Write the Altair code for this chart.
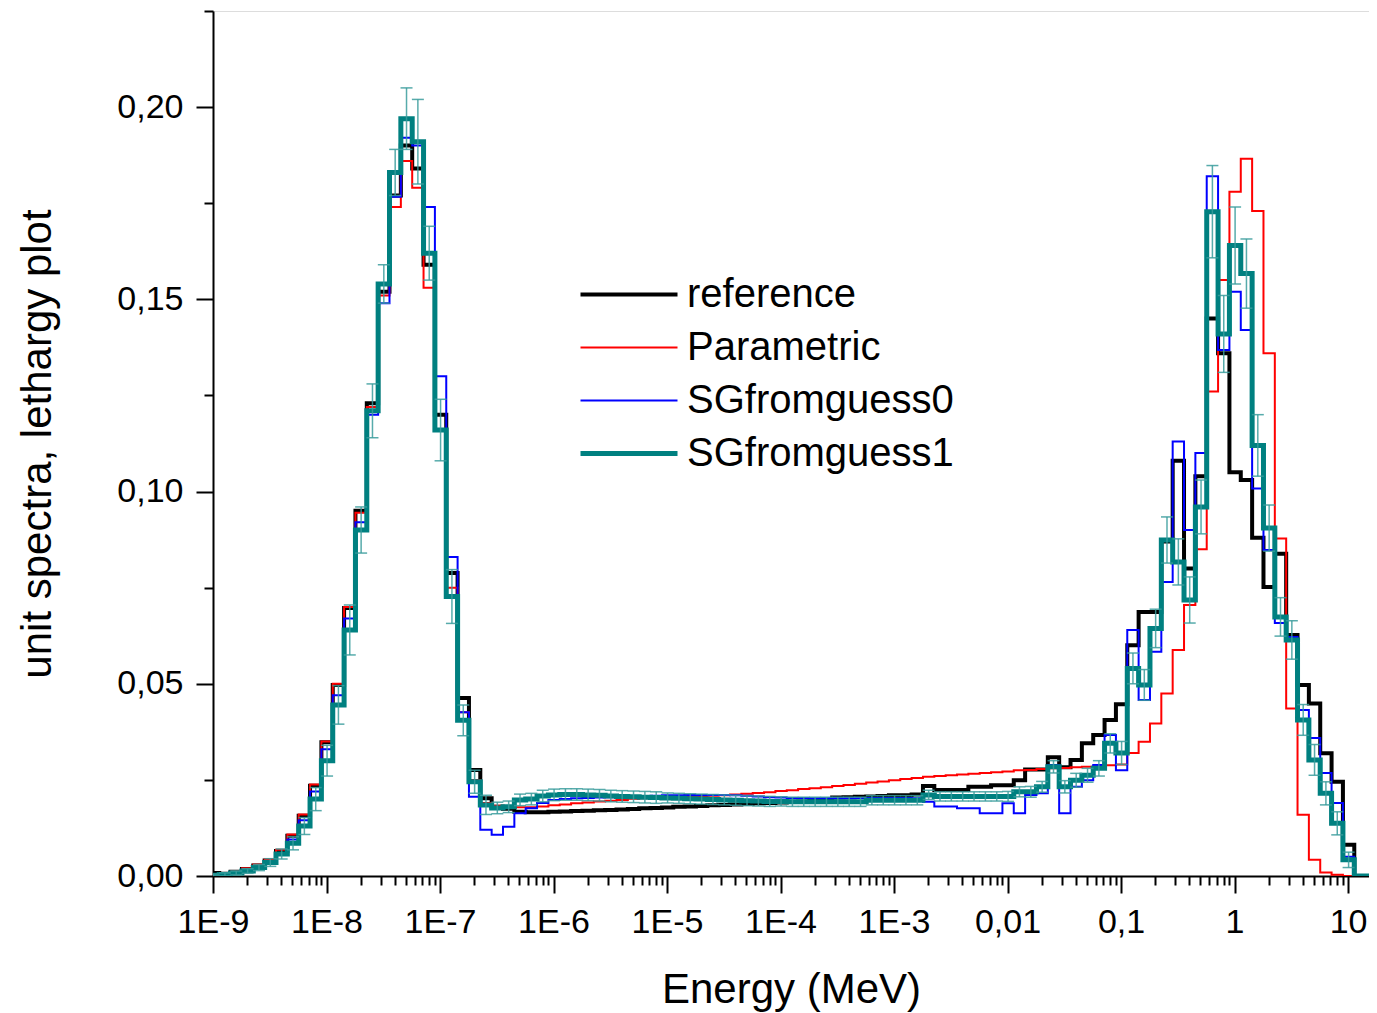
import altair as alt
import pandas as pd

series_names = ["reference", "Parametric", "SGfromguess0", "SGfromguess1"]
series_colors = ["#000000", "#ff0000", "#0000ff", "#008080"]
series_widths = [4, 2, 2, 5]
err_color = "#3a9c9c"

# energy group structure: log10 of first lower edge, group width in decades
first_edge_log = -9.045
group_width_log = 0.1
n_groups = 101
x_min, x_max = 1e-9, 15.3
y_max = 0.225

reference = [
    0.0008, 0.0006, 0.0011, 0.0018, 0.0027, 0.0040, 0.0065, 0.0105, 0.0157, 0.0235,
    0.0348, 0.0497, 0.0697, 0.0950, 0.1230, 0.1520, 0.1770, 0.1900, 0.1840, 0.1590,
    0.1200, 0.0788, 0.0463, 0.0276, 0.0202, 0.0180, 0.0175, 0.0167, 0.0166, 0.0166,
    0.0167, 0.0168, 0.0169, 0.0170, 0.0171, 0.0172, 0.0173, 0.0174, 0.0176, 0.0177,
    0.0178, 0.0180, 0.0181, 0.0182, 0.0184, 0.0185, 0.0186, 0.0188, 0.0189, 0.0190,
    0.0191, 0.0193, 0.0194, 0.0196, 0.0199, 0.0204, 0.0205, 0.0206, 0.0207, 0.0208,
    0.0210, 0.0210, 0.0212, 0.0234, 0.0224, 0.0224, 0.0224, 0.0232, 0.0232, 0.0236,
    0.0236, 0.0249, 0.0277, 0.0277, 0.0309, 0.0283, 0.0302, 0.0345, 0.0367, 0.0406,
    0.0447, 0.0600, 0.0687, 0.0687, 0.0870, 0.1080, 0.0800, 0.1040, 0.1450, 0.1360,
    0.1050, 0.1030, 0.0880, 0.0752, 0.0838, 0.0627, 0.0497, 0.0449, 0.0319, 0.0245,
    0.0081,
]
parametric = [
    0.0004, 0.0007, 0.0012, 0.0020, 0.0030, 0.0043, 0.0068, 0.0108, 0.0160, 0.0238,
    0.0350, 0.0500, 0.0700, 0.0945, 0.1220, 0.1510, 0.1740, 0.1860, 0.1790, 0.1530,
    0.1160, 0.0750, 0.0426, 0.0250, 0.0190, 0.0183, 0.0180, 0.0179, 0.0179, 0.0181,
    0.0184, 0.0186, 0.0189, 0.0191, 0.0194, 0.0196, 0.0198, 0.0201, 0.0202, 0.0203,
    0.0204, 0.0205, 0.0206, 0.0207, 0.0209, 0.0210, 0.0212, 0.0214, 0.0216, 0.0218,
    0.0221, 0.0223, 0.0226, 0.0228, 0.0231, 0.0234, 0.0237, 0.0240, 0.0243, 0.0246,
    0.0249, 0.0252, 0.0255, 0.0258, 0.0260, 0.0262, 0.0264, 0.0266, 0.0268, 0.0270,
    0.0272, 0.0275, 0.0276, 0.0278, 0.0280, 0.0281, 0.0283, 0.0284, 0.0286, 0.0288,
    0.0290, 0.0320, 0.0349, 0.0397, 0.0475, 0.0588, 0.0705, 0.0850, 0.1260, 0.1550,
    0.1780, 0.1866, 0.1730, 0.1360, 0.0878, 0.0436, 0.0159, 0.0042, 0.0009, 0.0003,
    0.0000,
]
sg_guess0 = [
    0.0003, 0.0005, 0.0010, 0.0016, 0.0025, 0.0037, 0.0060, 0.0095, 0.0145, 0.0220,
    0.0330, 0.0470, 0.0670, 0.0920, 0.1200, 0.1490, 0.1767, 0.1920, 0.1900, 0.1740,
    0.1300, 0.0830, 0.0426, 0.0206, 0.0120, 0.0107, 0.0128, 0.0163, 0.0176, 0.0190,
    0.0198, 0.0200, 0.0202, 0.0203, 0.0204, 0.0205, 0.0206, 0.0207, 0.0208, 0.0209,
    0.0210, 0.0210, 0.0211, 0.0211, 0.0211, 0.0211, 0.0210, 0.0209, 0.0207, 0.0205,
    0.0204, 0.0203, 0.0203, 0.0202, 0.0202, 0.0202, 0.0202, 0.0203, 0.0203, 0.0203,
    0.0203, 0.0203, 0.0202, 0.0193, 0.0181, 0.0181, 0.0176, 0.0176, 0.0163, 0.0163,
    0.0189, 0.0163, 0.0211, 0.0215, 0.0289, 0.0163, 0.0232, 0.0249, 0.0289, 0.0367,
    0.0275, 0.0640, 0.0458, 0.0583, 0.0765, 0.1130, 0.0900, 0.1100, 0.1820, 0.1368,
    0.1520, 0.1420, 0.1008, 0.0848, 0.0658, 0.0622, 0.0432, 0.0359, 0.0268, 0.0190,
    0.0050,
]
sg_guess1 = [
    0.0002, 0.0004, 0.0008, 0.0013, 0.0022, 0.0035, 0.0057, 0.0085, 0.0130, 0.0200,
    0.0300, 0.0445, 0.0640, 0.0900, 0.1210, 0.1540, 0.1830, 0.1970, 0.1910, 0.1620,
    0.1160, 0.0727, 0.0405, 0.0245, 0.0185, 0.0177, 0.0180, 0.0198, 0.0200, 0.0208,
    0.0211, 0.0212, 0.0212, 0.0211, 0.0210, 0.0208, 0.0207, 0.0206, 0.0205, 0.0204,
    0.0203, 0.0202, 0.0201, 0.0200, 0.0199, 0.0198, 0.0197, 0.0196, 0.0195, 0.0194,
    0.0194, 0.0193, 0.0193, 0.0193, 0.0193, 0.0193, 0.0193, 0.0193, 0.0197, 0.0197,
    0.0197, 0.0197, 0.0197, 0.0211, 0.0207, 0.0207, 0.0207, 0.0207, 0.0207, 0.0207,
    0.0207, 0.0219, 0.0219, 0.0232, 0.0284, 0.0232, 0.0249, 0.0262, 0.0280, 0.0345,
    0.0320, 0.0540, 0.0497, 0.0644, 0.0874, 0.0817, 0.0718, 0.0960, 0.1728, 0.1410,
    0.1640, 0.1567, 0.1120, 0.0905, 0.0674, 0.0614, 0.0406, 0.0302, 0.0215, 0.0137,
    0.0042,
]
sg_guess1_err = [
    0.0003, 0.0004, 0.0005, 0.0006, 0.0008, 0.0010, 0.0013, 0.0017, 0.0022, 0.0030,
    0.0040, 0.0050, 0.0065, 0.0060, 0.0070, 0.0050, 0.0060, 0.0080, 0.0110, 0.0070,
    0.0080, 0.0070, 0.0040, 0.0030, 0.0025, 0.0015, 0.0015, 0.0015, 0.0015, 0.0015,
    0.0015, 0.0015, 0.0015, 0.0015, 0.0015, 0.0015, 0.0015, 0.0015, 0.0015, 0.0015,
    0.0013, 0.0013, 0.0013, 0.0013, 0.0013, 0.0013, 0.0013, 0.0013, 0.0013, 0.0013,
    0.0012, 0.0012, 0.0012, 0.0012, 0.0012, 0.0012, 0.0012, 0.0012, 0.0012, 0.0012,
    0.0012, 0.0012, 0.0012, 0.0012, 0.0012, 0.0012, 0.0012, 0.0012, 0.0012, 0.0012,
    0.0013, 0.0013, 0.0014, 0.0014, 0.0016, 0.0016, 0.0018, 0.0018, 0.0020, 0.0025,
    0.0030, 0.0040, 0.0040, 0.0050, 0.0060, 0.0060, 0.0060, 0.0070, 0.0120, 0.0100,
    0.0100, 0.0090, 0.0080, 0.0060, 0.0050, 0.0050, 0.0040, 0.0040, 0.0030, 0.0030,
    0.0020,
]

# ---- build tables ----
edges = [10 ** (first_edge_log + group_width_log * k) for k in range(n_groups + 1)]
centers = [10 ** (first_edge_log + group_width_log * (k + 0.5)) for k in range(n_groups)]

rows = []
for name, vals in zip(series_names, [reference, parametric, sg_guess0, sg_guess1]):
    for k in range(n_groups):
        rows.append({"E": edges[k], "v": vals[k], "series": name})
    rows.append({"E": edges[n_groups], "v": 0.0, "series": name})
    rows.append({"E": x_max, "v": 0.0, "series": name})
df_lines = pd.DataFrame(rows)

df_err = pd.DataFrame({
    "E": centers,
    "v": [max(v - e, 0) for v, e in zip(sg_guess1, sg_guess1_err)],
    "hi": [v + e for v, e in zip(sg_guess1, sg_guess1_err)],
})

# ---- axes ----
x_ticks = [m * 10.0 ** d for d in range(-9, 2) for m in range(1, 10) if m * 10.0 ** d <= x_max]
y_ticks = [round(0.025 * i, 3) for i in range(10)]

lg = "log(datum.value)/LN10"
is_decade = f"abs({lg} - round({lg})) < 0.01"
x_label_expr = (
    f"{is_decade} ? (round({lg}) <= -3 ? '1E' + round({lg}) : "
    f"round({lg}) == -2 ? '0,01' : round({lg}) == -1 ? '0,1' : "
    f"round({lg}) == 0 ? '1' : '10') : ''"
)
y_major = "abs(datum.value*20 - round(datum.value*20)) < 0.01"
y_label_expr = f"{y_major} ? replace(format(datum.value, '.2f'), '.', ',') : ''"

font = "Liberation Sans"

xaxis = alt.Axis(
    orient="bottom",
    values=x_ticks, labelExpr=x_label_expr, labelOverlap=False, labelFlush=False,
    tickSize={"condition": {"test": is_decade, "value": 17}, "value": 9},
    tickWidth=2, tickColor="black", domainColor="black", domainWidth=2,
    labelFontSize=34, labelFont=font, labelColor="black", labelPadding=12,
    titleFontSize=42, titleFont=font, titleFontWeight="normal", titleColor="black",
    titleY=126, titleBaseline="alphabetic", grid=False,
)
yaxis = alt.Axis(
    orient="left",
    values=y_ticks, labelExpr=y_label_expr, labelOverlap=False, labelFlush=False,
    tickSize={"condition": {"test": y_major, "value": 17}, "value": 9},
    tickWidth=2, tickColor="black", domainColor="black", domainWidth=2,
    labelFontSize=34, labelFont=font, labelColor="black", labelPadding=13,
    titleFontSize=42, titleFont=font, titleFontWeight="normal", titleColor="black",
    titleX=-163, titleBaseline="alphabetic", grid=False,
)

xscale = alt.Scale(type="log", domain=[x_min, x_max], nice=False)
yscale = alt.Scale(domain=[0, y_max], nice=False, zero=True)

legend = alt.Legend(
    title=None, orient="none", legendX=365, legendY=257,
    symbolType="stroke", symbolSize=9409, labelFontSize=40, labelFont=font,
    labelColor="black", labelOffset=7, labelLimit=0, clipHeight=53, rowPadding=0,
)

X = alt.X("E:Q", scale=xscale, axis=xaxis, title="Energy (MeV)")
Y = alt.Y("v:Q", scale=yscale, axis=yaxis, title="unit spectra, lethargy plot")
color = alt.Color("series:N", scale=alt.Scale(domain=series_names, range=series_colors), legend=legend)
width_enc = alt.StrokeWidth(
    "series:N", scale=alt.Scale(type="ordinal", domain=series_names, range=series_widths), legend=legend
)

layers = []
for name in series_names:
    layers.append(
        alt.Chart(df_lines)
        .transform_filter(alt.datum.series == name)
        .mark_line(interpolate="step-after", clip=True, strokeJoin="miter")
        .encode(x=X, y=Y, color=color, strokeWidth=width_enc)
    )

err_rule = alt.Chart(df_err).mark_rule(color=err_color, strokeWidth=1.5, opacity=0.85, clip=True).encode(
    x=X, y=Y, y2="hi:Q"
)
cap_lo = alt.Chart(df_err).mark_tick(color=err_color, orient="horizontal", size=12, thickness=1.5, opacity=0.85, clip=True).encode(
    x=X, y=Y
)
cap_hi = alt.Chart(df_err).transform_calculate(v="datum.hi").mark_tick(
    color=err_color, orient="horizontal", size=12, thickness=1.5, opacity=0.85, clip=True
).encode(x=X, y=Y)

chart = (
    alt.layer(*layers, err_rule, cap_hi, cap_lo)
    .properties(
        width=1156, height=865,
        autosize=alt.AutoSizeParams(type="none"),
        padding={"left": 205, "top": 3, "right": 0, "bottom": 137},
    )
    .configure_view(stroke="transparent", strokeWidth=0)
    .configure(background="white")
)

chart.save("out.html", embed_options={"renderer": "svg", "actions": False})
